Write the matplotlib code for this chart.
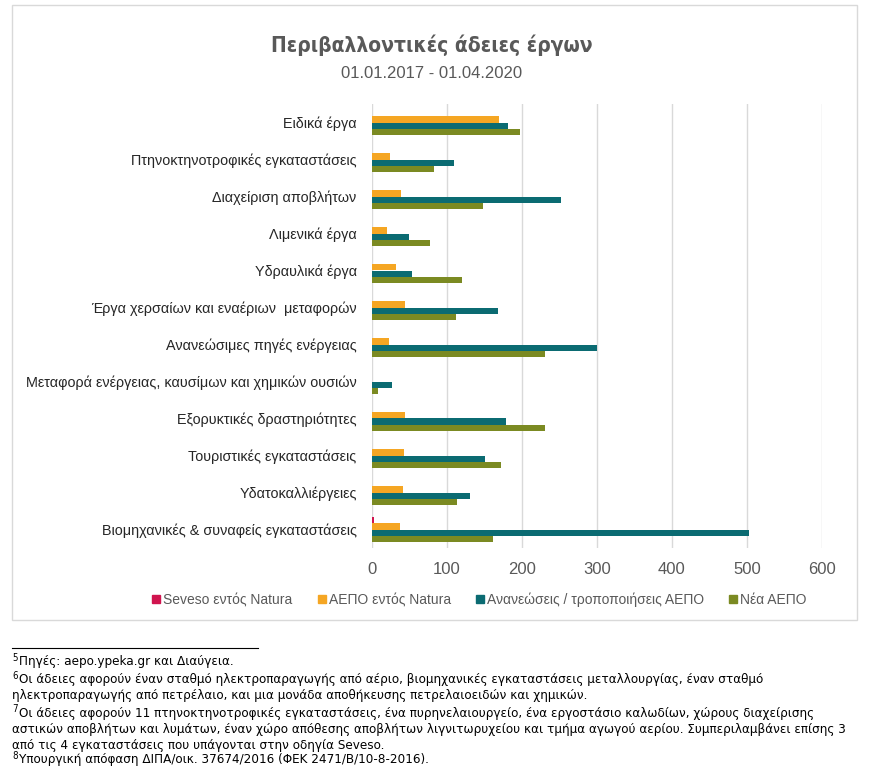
import matplotlib
matplotlib.use('Agg')
import matplotlib.pyplot as plt
import numpy as np
from matplotlib.patches import Rectangle
from matplotlib.lines import Line2D

categories = ['Ειδικά έργα', 'Πτηνοκτηνοτροφικές εγκαταστάσεις', 'Διαχείριση αποβλήτων',
              'Λιμενικά έργα', 'Υδραυλικά έργα', 'Έργα χερσαίων και εναέριων  μεταφορών',
              'Ανανεώσιμες πηγές ενέργειας', 'Μεταφορά ενέργειας, καυσίμων και χημικών ουσιών',
              'Εξορυκτικές δραστηριότητες', 'Τουριστικές εγκαταστάσεις', 'Υδατοκαλλιέργειες',
              'Βιομηχανικές & συναφείς εγκαταστάσεις']
series_names = ['Seveso εντός Natura', 'ΑΕΠΟ εντός Natura',
                'Ανανεώσεις / τροποποιήσεις ΑΕΠΟ', 'Νέα ΑΕΠΟ']
seveso = [0, 0, 0, 0, 0, 0, 0, 0, 0, 0, 0, 3]
aepo_natura = [169, 24, 39, 20, 32, 44, 23, 0, 44, 43, 42, 38]
renewals = [181, 109, 252, 50, 53, 168, 300, 27, 179, 151, 131, 502]
new_aepo = [197, 83, 148, 77, 120, 112, 230, 8, 231, 172, 113, 162]
xticks = [0, 100, 200, 300, 400, 500, 600]

colors = ['#D0144E', '#F5A623', '#0B6B72', '#7B8A22']
grey = '#595959'

W, H = 870, 778
fig = plt.figure(figsize=(W / 100, H / 100), dpi=100)

# chart frame
fig.patches.append(Rectangle((12 / W, 1 - 620 / H), 845 / W, 615 / H, transform=fig.transFigure,
                             facecolor='none', edgecolor='#d9d9d9', linewidth=1))

ax = fig.add_axes([372 / W, 1 - 548 / H, 450 / W, 444 / H])
y = np.arange(len(categories))
h = 0.173
for k, vals in enumerate([seveso, aepo_natura, renewals, new_aepo]):
    ax.barh(y + (k - 1.5) * h, vals, height=h, color=colors[k], label=series_names[k], zorder=3)

ax.set_xlim(0, 600)
ax.set_ylim(len(categories) - 0.5, -0.5)
ax.set_xticks(xticks)
ax.set_yticks(y)
ax.set_yticklabels(categories, fontsize=10.4, color='#262626', family='Liberation Sans')
ax.tick_params(axis='y', length=0, pad=11)
ax.tick_params(axis='x', length=0, pad=10, labelsize=12, labelcolor=grey)
for lb in ax.get_xticklabels():
    lb.set_family('Liberation Sans')
ax.grid(axis='x', color='#d9d9d9', linewidth=1, zorder=0)
for s in ax.spines.values():
    s.set_visible(False)

# title
fig.text(432 / W, 1 - 45 / H, 'Περιβαλλοντικές άδειες έργων', ha='center', va='center',
         fontsize=15, color=grey, family='DejaVu Sans', stretch='condensed', weight='bold')
fig.text(432 / W, 1 - 73 / H, '01.01.2017 - 01.04.2020', ha='center', va='center',
         fontsize=12, color=grey, family='Liberation Sans')

# legend
handles = [Line2D([], [], marker='s', linestyle='none', markersize=6, color=c) for c in colors]
fig.legend(handles, series_names, loc='center', bbox_to_anchor=(478 / W, 1 - 600 / H),
           ncol=4, frameon=False, handletextpad=0.0, columnspacing=1.6, handlelength=1.0,
           prop={'family': 'Liberation Sans', 'size': 10}, labelcolor=grey)

# footnotes
fig.add_artist(Line2D([12 / W, 258 / W], [1 - 648 / H, 1 - 648 / H], transform=fig.transFigure,
                      color='black', linewidth=0.8))
notes = [
    ('5', 'Πηγές: aepo.ypeka.gr και Διαύγεια.', 662),
    ('6', 'Οι άδειες αφορούν έναν σταθμό ηλεκτροπαραγωγής από αέριο, βιομηχανικές εγκαταστάσεις μεταλλουργίας, έναν σταθμό', 680),
    ('', 'ηλεκτροπαραγωγής από πετρέλαιο, και μια μονάδα αποθήκευσης πετρελαιοειδών και χημικών.', 696),
    ('7', 'Οι άδειες αφορούν 11 πτηνοκτηνοτροφικές εγκαταστάσεις, ένα πυρηνελαιουργείο, ένα εργοστάσιο καλωδίων, χώρους διαχείρισης', 713),
    ('', 'αστικών αποβλήτων και λυμάτων, έναν χώρο απόθεσης αποβλήτων λιγνιτωρυχείου και τμήμα αγωγού αερίου. Συμπεριλαμβάνει επίσης 3', 729),
    ('', 'από τις 4 εγκαταστάσεις που υπάγονται στην οδηγία Seveso.', 745),
    ('8', 'Υπουργική απόφαση ΔΙΠΑ/οικ. 37674/2016 (ΦΕΚ 2471/Β/10-8-2016).', 760),
]
for sup, txt, py in notes:
    x0 = 12
    if sup:
        fig.text(12 / W, 1 - (py - 4) / H, sup, ha='left', va='center', fontsize=7,
                 family='DejaVu Sans', stretch='condensed', color='black')
        x0 = 19
    fig.text(x0 / W, 1 - py / H, txt, ha='left', va='center', fontsize=9.6,
             family='DejaVu Sans', stretch='condensed', color='black')

fig.savefig('out.png', dpi=100)
